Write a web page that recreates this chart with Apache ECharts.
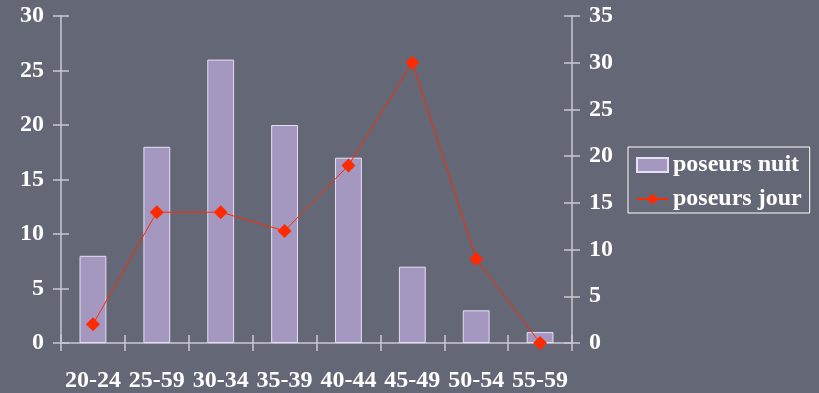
<!DOCTYPE html>
<html>
<head>
<meta charset="utf-8">
<script src="https://cdn.jsdelivr.net/npm/echarts@6/dist/echarts.min.js"></script>
<style>
  html, body { margin: 0; padding: 0; background: #646776; }
  #chart { width: 819px; height: 393px; }
</style>
</head>
<body>
<div id="chart"></div>
<script>
// Age groups and counts per group
const categories = ['20-24', '25-59', '30-34', '35-39', '40-44', '45-49', '50-54', '55-59'];
const poseursNuit = [8, 18, 26, 20, 17, 7, 3, 1];
const poseursJour = [2, 14, 14, 12, 19, 30, 9, 0];
const leftTicks = { min: 0, max: 30, interval: 5 };
const rightTicks = { min: 0, max: 35, interval: 5 };

const font = '"Liberation Serif", "Times New Roman", serif';
const axisColor = '#c9c9d2';

function valueAxis(range, position, opts) {
  return Object.assign({
    type: 'value',
    position: position,
    min: range.min, max: range.max, interval: range.interval,
    splitLine: { show: false },
    axisLine: { show: true, lineStyle: { color: axisColor, width: 1.5 } },
    axisTick: { show: true, length: 8, lineStyle: { color: axisColor, width: 1.5 } },
    axisLabel: { color: '#ffffff', fontFamily: font, fontWeight: 'bold', fontSize: 24, margin: 17 }
  }, opts || {});
}

// Second copies of each axis draw the inward half of the crossing ticks
const innerTicks = {
  axisLine: { show: false },
  axisLabel: { show: false },
  axisTick: { show: true, inside: true, length: 8, lineStyle: { color: axisColor, width: 1.5 } }
};

const chart = echarts.init(document.getElementById('chart'));
chart.setOption({
  backgroundColor: '#646776',
  animation: false,
  grid: { left: 61, right: 247, top: 16, bottom: 49 },
  legend: {
    left: 628, top: 147,
    orient: 'vertical',
    padding: [6, 8, 2, 8],
    itemGap: 10,
    itemWidth: 31, itemHeight: 14,
    borderColor: '#ffffff', borderWidth: 1,
    textStyle: { color: '#ffffff', fontFamily: font, fontWeight: 'bold', fontSize: 24 },
    data: [{ name: 'poseurs nuit', icon: 'rect' }, 'poseurs jour']
  },
  xAxis: [
    {
      type: 'category', data: categories,
      axisLine: { show: true, lineStyle: { color: axisColor, width: 1.5 } },
      axisTick: { show: true, length: 8, lineStyle: { color: axisColor, width: 1.5 } },
      axisLabel: { interval: 0, color: '#ffffff', fontFamily: font, fontWeight: 'bold', fontSize: 24, margin: 26 }
    },
    Object.assign({ type: 'category', data: categories, position: 'bottom' }, innerTicks)
  ],
  yAxis: [
    valueAxis(leftTicks, 'left'),
    valueAxis(rightTicks, 'right'),
    valueAxis(leftTicks, 'left', innerTicks),
    valueAxis(rightTicks, 'right', innerTicks)
  ],
  series: [
    {
      name: 'poseurs nuit', type: 'bar',
      xAxisIndex: 0, yAxisIndex: 0,
      data: poseursNuit,
      barWidth: '42%',
      itemStyle: { color: '#a498c1', borderColor: '#e6def4', borderWidth: 1 }
    },
    {
      name: 'poseurs jour', type: 'line',
      xAxisIndex: 0, yAxisIndex: 1,
      data: poseursJour,
      symbol: 'diamond', symbolSize: 14,
      lineStyle: { color: '#ff2a00', width: 1 },
      itemStyle: { color: '#ff2a00' },
      z: 5
    }
  ]
});
</script>
</body>
</html>
